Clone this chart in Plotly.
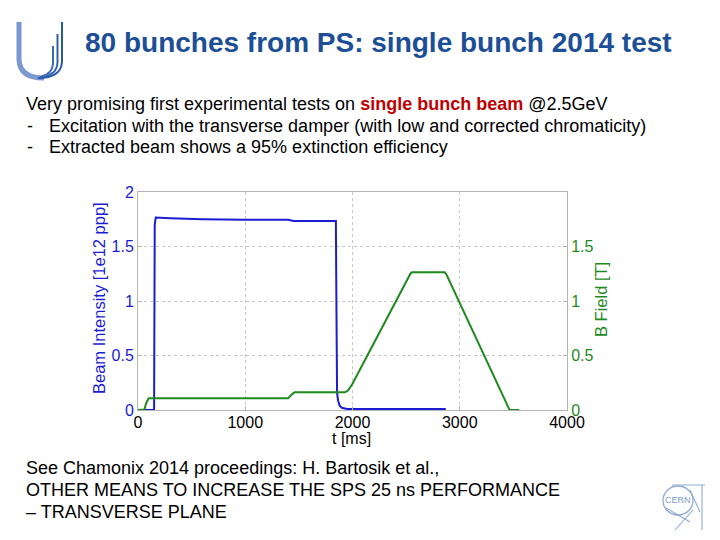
import plotly.graph_objects as go

# ---- data ----
beam_t = [0, 150, 156, 165, 300, 600, 1000, 1400, 1450, 1845, 1850, 1856, 1865, 1880, 1900, 1950, 2870]
beam_i = [0, 0, 1.70, 1.765, 1.76, 1.75, 1.745, 1.745, 1.735, 1.735, 1.0, 0.16, 0.09, 0.04, 0.02, 0.01, 0.01]

bfield_t = [0, 60, 75, 100, 1400, 1430, 1460, 1930, 1960, 2000, 2540, 2555, 2860, 2875, 3465, 3555]
bfield_b = [0.0, 0.005, 0.06, 0.107, 0.107, 0.14, 0.162, 0.162, 0.18, 0.24, 1.25, 1.263, 1.263, 1.245, 0.0, 0.0]

x_ticks = [0, 1000, 2000, 3000, 4000]
left_ticks = [0, 0.5, 1, 1.5, 2]
left_tick_text = ["0", "0.5", "1", "1.5", "2"]
right_ticks = [0, 0.5, 1, 1.5]
right_tick_text = ["0", "0.5", "1", "1.5"]

# page has an 8px body margin: figure is 712x532 drawn at (8, 8)
OFF = 8
W, H = 720 - OFF, 540 - OFF
BLUE = "#1c1cd2"
GREEN = "#1f8a1f"
GRID = "#c8c8c8"
BOX = "#b4b4b4"
FONT = "Liberation Sans, Arial, sans-serif"

def px(x):
    return (x - OFF) / W

def py(y):
    return 1 - (y - OFF) / H

fig = go.Figure()
fig.add_trace(go.Scatter(x=beam_t, y=beam_i, mode="lines",
                         line=dict(color=BLUE, width=2), yaxis="y", showlegend=False))
fig.add_trace(go.Scatter(x=bfield_t, y=bfield_b, mode="lines",
                         line=dict(color=GREEN, width=2), yaxis="y2", showlegend=False))

x0p, x1p, ytp, ybp = 138, 567, 192, 410

fig.update_layout(
    width=W, height=H,
    margin=dict(l=0, r=0, t=0, b=0, autoexpand=False),
    paper_bgcolor="white", plot_bgcolor="white",
    font=dict(family=FONT, size=16, color="black"),
    xaxis=dict(domain=[px(x0p), px(x1p)], range=[0, 4000], tickvals=x_ticks,
               showgrid=True, gridcolor=GRID, griddash="dot", gridwidth=1,
               showline=True, linecolor=BOX, mirror=True, linewidth=1,
               ticks="inside", ticklen=4, tickcolor=BOX, automargin=False,
               ticklabelstandoff=-2,
               tickfont=dict(size=16, color="black"), zeroline=False),
    yaxis=dict(domain=[py(ybp), py(ytp)], range=[0, 2], tickvals=left_ticks,
               ticktext=left_tick_text, automargin=False,
               showgrid=True, gridcolor=GRID, griddash="dot", gridwidth=1,
               showline=True, linecolor=BOX, mirror=False, linewidth=1,
               ticks="inside", ticklen=4, tickcolor=BOX,
               tickfont=dict(size=16, color=BLUE), zeroline=False),
    yaxis2=dict(overlaying="y", side="right", range=[0, 2], tickvals=right_ticks,
                ticktext=right_tick_text, showgrid=False, automargin=False,
                showline=True, linecolor=BOX, linewidth=1,
                ticks="inside", ticklen=4, tickcolor=BOX,
                tickfont=dict(size=16, color=GREEN), zeroline=False),
)

ann = []
def text(x, y, s, size=18, color="black", anchor="left", bold=False, angle=0):
    if bold:
        s = "<b>" + s + "</b>"
    if anchor == "left":
        x -= 3
    ann.append(dict(x=px(x), y=py(y), xref="paper", yref="paper", text=s,
                    showarrow=False, xanchor=anchor, yanchor="middle",
                    textangle=angle, font=dict(family=FONT, size=size, color=color)))

# axis titles
text(99, 298, "Beam Intensity [1e12 ppp]", size=16.5, color=BLUE, anchor="center", angle=-90)
text(601, 300, "B Field [T]", size=16.5, color=GREEN, anchor="center", angle=-90)
text(351, 438, "t [ms]", size=16, anchor="center")

# slide title
text(86, 43, "80 bunches from PS: single bunch 2014 test", size=28, color="#1c4f96", bold=True)

# body text
text(27, 104, "Very promising first experimental tests on "
     "<b><span style='color:#c00000'>single bunch beam</span></b> @2.5GeV", size=18)
text(28, 126, "-")
text(50, 126, "Excitation with the transverse damper (with low and corrected chromaticity)")
text(28, 147, "-")
text(50, 147, "Extracted beam shows a 95% extinction efficiency")

# bottom text
text(27, 468, "See Chamonix 2014 proceedings: H. Bartosik et al.,")
text(27, 490, "OTHER MEANS TO INCREASE THE SPS 25 ns PERFORMANCE")
text(27, 512, "– TRANSVERSE PLANE")

# CERN logo text
text(678, 500, "CERN", size=9, color="#7a9cc8", anchor="center")

fig.update_layout(annotations=ann)

# U logo
def path(cmds):
    out = []
    for c in cmds:
        if isinstance(c, str):
            out.append(c)
        else:
            out.append(f"{px(c[0]):.5f},{py(c[1]):.5f}")
    return " ".join(out)

u_specs = [
    (["M", (19, 22), "L", (19, 60), "Q", (20, 78), (44, 78)], "#7b98cf", 5),
    (["M", (62, 22), "L", (62, 62), "Q", (61, 78), (38, 78)], "#2a58a4", 2),
    (["M", (57.5, 34), "L", (57.5, 63), "Q", (56.5, 76), (40, 77)], "#2f62ad", 2),
    (["M", (53, 46), "L", (53, 64), "Q", (52, 74), (42, 76)], "#3a6db5", 2),
]
for cmds, col, w in u_specs:
    fig.add_shape(type="path", xref="paper", yref="paper", path=path(cmds),
                  line=dict(color=col, width=w))

# CERN logo strokes
LC = "#8fabd2"
fig.add_shape(type="circle", xref="paper", yref="paper",
              x0=px(663), x1=px(693), y0=py(515), y1=py(486),
              line=dict(color=LC, width=1.3))
for (xa, ya), (xb, yb) in [((672, 485), (705, 485)), ((702, 485), (702, 530)),
                           ((675, 530), (693, 510)), ((666, 508), (690, 522)),
                           ((690, 490), (700, 512))]:
    fig.add_shape(type="line", xref="paper", yref="paper",
                  x0=px(xa), y0=py(ya), x1=px(xb), y1=py(yb),
                  line=dict(color=LC, width=1.1))

fig.write_html("out.html")
